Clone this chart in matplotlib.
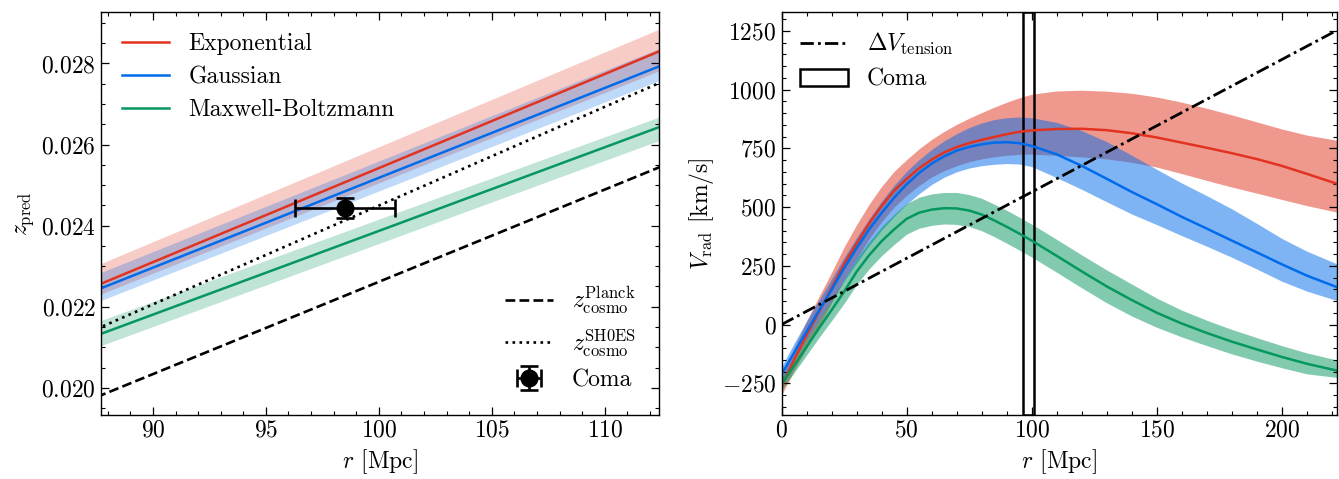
import matplotlib
matplotlib.use('Agg')
import matplotlib.pyplot as plt
import numpy as np
from matplotlib.ticker import MultipleLocator

plt.rcParams['font.family'] = 'serif'
plt.rcParams['font.serif'] = ['cmr10']
plt.rcParams['mathtext.fontset'] = 'cm'
plt.rcParams['axes.formatter.use_mathtext'] = True
plt.rcParams['font.size'] = 17
plt.rcParams['axes.linewidth'] = 1.0

c_exp = '#E1331F'
c_gau = '#006BEB'
c_mb = '#05975F'

# ---- left panel: predicted redshift around Coma
r_left = [87.5, 112.5]
z_exp = [0.02252, 0.02832]
z_exp_hi = [0.02302, 0.02887]
z_exp_lo = [0.02227, 0.02784]
z_gau = [0.02241, 0.02795]
z_gau_hi = [0.02280, 0.02839]
z_gau_lo = [0.02211, 0.02760]
z_mb = [0.02129, 0.02645]
z_mb_hi = [0.02162, 0.02670]
z_mb_lo = [0.02100, 0.02612]
z_planck = [0.01977, 0.02546]
z_shoes = [0.02145, 0.02754]

coma_r, coma_r_err = 98.5, 2.2
coma_z, coma_z_err = 0.02444, 0.00024

# ---- right panel: radial velocity profiles
r_right = [0, 5, 10, 15, 20, 25, 30, 35, 40, 45, 50, 55, 60, 65, 70, 75, 80,
           85, 90, 95, 100, 110, 120, 130, 140, 150, 160, 170, 180, 190, 200,
           210, 222]
v_exp = [-265, -150, -45, 55, 155, 258, 345, 430, 505, 570, 620, 665, 702,
         732, 755, 772, 786, 798, 810, 820, 826, 832, 833, 827, 814, 796, 774,
         752, 729, 704, 675, 641, 599]
v_exp_hi = [-225, -100, 15, 120, 222, 330, 425, 512, 588, 652, 702, 748, 788,
            822, 852, 878, 902, 925, 946, 965, 980, 994, 997, 993, 984, 968,
            946, 920, 892, 862, 832, 806, 784]
v_exp_lo = [-300, -195, -100, -5, 92, 190, 280, 365, 438, 500, 550, 592, 628,
            655, 676, 693, 705, 714, 720, 724, 725, 720, 713, 705, 690, 670,
            642, 613, 585, 559, 532, 506, 478]
v_gau = [-212, -120, -30, 60, 148, 240, 325, 405, 475, 540, 597, 645, 685,
         716, 740, 756, 767, 774, 776, 772, 760, 724, 675, 620, 564, 512, 458,
         408, 357, 307, 256, 208, 159]
v_gau_hi = [-180, -80, 15, 105, 195, 285, 370, 450, 525, 593, 652, 702, 745,
            782, 812, 838, 858, 872, 880, 883, 880, 860, 825, 778, 720, 660,
            602, 548, 492, 430, 366, 312, 258]
v_gau_lo = [-240, -150, -62, 22, 102, 185, 262, 336, 402, 460, 512, 557, 596,
            627, 650, 666, 676, 682, 685, 683, 672, 625, 575, 522, 470, 425,
            378, 333, 286, 236, 184, 142, 102]
v_mb = [-255, -175, -95, -15, 62, 140, 225, 295, 355, 405, 450, 476, 489,
        495, 494, 485, 468, 443, 416, 387, 357, 292, 226, 162, 104, 50, 4,
        -36, -73, -106, -138, -167, -196]
v_mb_hi = [-230, -145, -60, 25, 107, 190, 280, 353, 417, 469, 515, 542, 556,
           562, 562, 553, 537, 512, 486, 457, 427, 362, 296, 232, 172, 112,
           61, 18, -21, -56, -90, -121, -151]
v_mb_lo = [-280, -205, -130, -55, 17, 90, 170, 237, 293, 341, 385, 410, 422,
           428, 426, 417, 399, 374, 346, 317, 287, 222, 156, 92, 36, -12, -53,
           -90, -125, -156, -184, -210, -225]

r_tension = [0, 222]
v_tension = [0, 1252]
coma_box = (96.3, 100.7)

fig = plt.figure(figsize=(13.39, 4.79), dpi=100)
ax1 = fig.add_axes([0.0754, 0.1336, 0.4168, 0.8414])
ax2 = fig.add_axes([0.5837, 0.1336, 0.4148, 0.8414])


def style_axis(ax):
    ax.tick_params(which='both', direction='in', top=True, right=True)
    ax.tick_params(which='major', length=5.5, width=0.9)
    ax.tick_params(which='minor', length=3, width=0.8)


# left
ax1.fill_between(r_left, z_exp_lo, z_exp_hi, color=c_exp, alpha=0.25, lw=0)
ax1.fill_between(r_left, z_gau_lo, z_gau_hi, color=c_gau, alpha=0.25, lw=0)
ax1.fill_between(r_left, z_mb_lo, z_mb_hi, color=c_mb, alpha=0.25, lw=0)
l1, = ax1.plot(r_left, z_exp, color=c_exp, lw=1.8, label='Exponential')
l2, = ax1.plot(r_left, z_gau, color=c_gau, lw=1.8, label='Gaussian')
l3, = ax1.plot(r_left, z_mb, color=c_mb, lw=1.8, label='Maxwell-Boltzmann')
l4, = ax1.plot(r_left, z_planck, color='k', ls='--', lw=1.9,
               label=r'$z_\mathrm{cosmo}^\mathrm{Planck}$')
l5, = ax1.plot(r_left, z_shoes, color='k', ls=':', lw=1.9,
               label=r'$z_\mathrm{cosmo}^\mathrm{SH0ES}$')
eb = ax1.errorbar(coma_r, coma_z, xerr=coma_r_err, yerr=coma_z_err, fmt='o',
                  color='k', ms=12, elinewidth=1.9, capsize=6.5, capthick=1.9,
                  label='Coma', zorder=5)

ax1.set_xlim(87.7, 112.4)
ax1.set_ylim(0.01933, 0.02927)
ax1.xaxis.set_major_locator(MultipleLocator(5))
ax1.xaxis.set_minor_locator(MultipleLocator(1))
ax1.yaxis.set_major_locator(MultipleLocator(0.002))
ax1.yaxis.set_minor_locator(MultipleLocator(0.0005))
style_axis(ax1)
ax1.set_xlabel(r'$r$ [Mpc]')
ax1.set_ylabel(r'$z_\mathrm{pred}$')

leg1 = ax1.legend(handles=[l1, l2, l3], loc='upper left', frameon=False,
                  handlelength=2.0, borderaxespad=0.5, labelspacing=0.45)
ax1.add_artist(leg1)
ax1.legend(handles=[l4, l5, eb], loc='lower right', frameon=False,
           handlelength=2.0, borderaxespad=0.6, labelspacing=0.45)

# right
ax2.fill_between(r_right, v_exp_lo, v_exp_hi, color=c_exp, alpha=0.5, lw=0)
ax2.fill_between(r_right, v_gau_lo, v_gau_hi, color=c_gau, alpha=0.5, lw=0)
ax2.fill_between(r_right, v_mb_lo, v_mb_hi, color=c_mb, alpha=0.5, lw=0)
ax2.plot(r_right, v_exp, color=c_exp, lw=1.8)
ax2.plot(r_right, v_gau, color=c_gau, lw=1.8)
ax2.plot(r_right, v_mb, color=c_mb, lw=1.8)
t1, = ax2.plot(r_tension, v_tension, color='k', lw=2.0,
               dashes=(4.8, 1.5, 1, 1.5), label=r'$\Delta V_\mathrm{tension}$')
box = ax2.axvspan(coma_box[0], coma_box[1], fill=False, edgecolor='k',
                  lw=1.8, label='Coma')

ax2.set_xlim(0, 222)
ax2.set_ylim(-385, 1330)
ax2.xaxis.set_major_locator(MultipleLocator(50))
ax2.xaxis.set_minor_locator(MultipleLocator(10))
ax2.yaxis.set_major_locator(MultipleLocator(250))
ax2.yaxis.set_minor_locator(MultipleLocator(50))
style_axis(ax2)
ax2.set_xlabel(r'$r$ [Mpc]')
ax2.set_ylabel(r'$V_\mathrm{rad}$ [km/s]')
ax2.legend(handles=[t1, box], loc='upper left', frameon=False,
           handlelength=2.0, borderaxespad=0.4)

fig.savefig('out.png', dpi=100)
